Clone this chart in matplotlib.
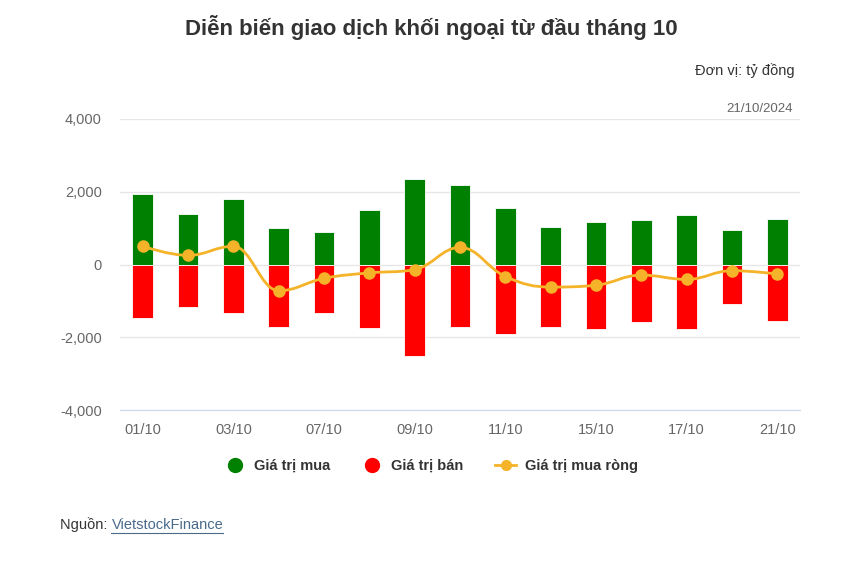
import numpy as np
import matplotlib
matplotlib.use("Agg")
import matplotlib.pyplot as plt
from matplotlib.path import Path
from matplotlib.patches import PathPatch
from matplotlib.lines import Line2D

plt.rcParams['font.family'] = ['Liberation Sans', 'DejaVu Sans']

# Dữ liệu (tỷ đồng)
ngay = ["01/10", "02/10", "03/10", "04/10", "07/10", "08/10", "09/10", "10/10",
        "11/10", "14/10", "15/10", "16/10", "17/10", "18/10", "21/10"]
gia_tri_mua = [1935, 1380, 1810, 1010, 900, 1490, 2350, 2180,
               1560, 1040, 1180, 1220, 1350, 940, 1250]
gia_tri_ban = [-1475, -1160, -1340, -1710, -1340, -1750, -2520, -1710,
               -1920, -1710, -1780, -1570, -1780, -1090, -1540]
mua_rong = [500, 250, 500, -720, -380, -230, -140, 470,
            -330, -620, -570, -290, -410, -170, -260]
y_ticks = [-4000, -2000, 0, 2000, 4000]

GREEN = "#008000"
RED = "#ff0000"
ORANGE = "#f4b328"
TXT = "#333333"
GREY = "#666666"


def spline_path(xs, ys, smoothing=1.5):
    # duong cong kieu "spline" cua Highcharts
    denom = smoothing + 1
    n = len(xs)
    left = [(xs[i], ys[i]) for i in range(n)]
    right = [(xs[i], ys[i]) for i in range(n)]
    for i in range(1, n - 1):
        lx = (smoothing * xs[i] + xs[i - 1]) / denom
        ly = (smoothing * ys[i] + ys[i - 1]) / denom
        rx = (smoothing * xs[i] + xs[i + 1]) / denom
        ry = (smoothing * ys[i] + ys[i + 1]) / denom
        if rx != lx:
            corr = (ry - ly) * (rx - xs[i]) / (rx - lx) + ys[i] - ry
            ly += corr
            ry += corr
        if ly > max(ys[i - 1], ys[i]):
            ly = max(ys[i - 1], ys[i]); ry = 2 * ys[i] - ly
        elif ly < min(ys[i - 1], ys[i]):
            ly = min(ys[i - 1], ys[i]); ry = 2 * ys[i] - ly
        if ry > max(ys[i + 1], ys[i]):
            ry = max(ys[i + 1], ys[i]); ly = 2 * ys[i] - ry
        elif ry < min(ys[i + 1], ys[i]):
            ry = min(ys[i + 1], ys[i]); ly = 2 * ys[i] - ry
        left[i] = (lx, ly)
        right[i] = (rx, ry)
    verts = [(xs[0], ys[0])]
    codes = [Path.MOVETO]
    for i in range(1, n):
        verts += [right[i - 1], left[i], (xs[i], ys[i])]
        codes += [Path.CURVE4] * 3
    return Path(verts, codes)


fig = plt.figure(figsize=(8.62, 5.61), dpi=100)
ax = fig.add_axes([120 / 862, 1 - 410 / 561, 680 / 862, 291 / 561])

x = np.arange(len(ngay))
ax.bar(x, gia_tri_mua, width=0.46, color=GREEN, edgecolor="white", linewidth=0.6, zorder=2)
ax.bar(x, gia_tri_ban, width=0.46, color=RED, edgecolor="white", linewidth=0.6, zorder=2)

ax.add_patch(PathPatch(spline_path(x, mua_rong), facecolor="none",
                       edgecolor=ORANGE, linewidth=2, zorder=3))
ax.plot(x, mua_rong, "o", color=ORANGE, markersize=8, zorder=4)

ax.set_xlim(-0.5, len(ngay) - 0.5)
ax.set_ylim(-4000, 4000)
ax.set_yticks(y_ticks)
ax.set_yticklabels([f"{v:,}" for v in y_ticks])
ax.set_xticks(x[::2])
ax.set_xticklabels(ngay[::2])
ax.tick_params(axis="both", length=0, labelsize=10.5, labelcolor=GREY)
ax.tick_params(axis="y", pad=13)
ax.tick_params(axis="x", pad=9)
ax.grid(axis="y", color="#e6e6e6", linewidth=1, zorder=0)
for s in ["top", "right", "left"]:
    ax.spines[s].set_visible(False)
ax.spines["bottom"].set_color("#ccd6eb")

fig.text(0.5, 1 - 28 / 561, "Diễn biến giao dịch khối ngoại từ đầu tháng 10",
         ha="center", va="center", fontsize=16, fontweight="bold", color=TXT)
fig.text(795 / 862, 1 - 71 / 561, "Đơn vị: tỷ đồng", ha="right", va="center",
         fontsize=10.5, color=TXT)
fig.text(793 / 862, 1 - 109 / 561, "21/10/2024", ha="right", va="center",
         fontsize=9.5, color=GREY)

# chu thich
handles = [
    Line2D([], [], marker="o", linestyle="none", color=GREEN, markersize=10),
    Line2D([], [], marker="o", linestyle="none", color=RED, markersize=10),
    Line2D([], [], marker="o", color=ORANGE, markersize=7, linewidth=2),
]
fig.legend(handles, ["Giá trị mua", "Giá trị bán", "Giá trị mua ròng"],
           loc="center", bbox_to_anchor=(0.5, 1 - 466 / 561), ncol=3, frameon=False,
           prop={"weight": "bold", "size": 10.5}, labelcolor=TXT,
           handlelength=1.4, handletextpad=0.6, columnspacing=2.2)

t1 = fig.text(60 / 862, 1 - 525 / 561, "Nguồn: ", ha="left", va="center",
              fontsize=10.5, color=TXT)
fig.canvas.draw()
bb = t1.get_window_extent()
t2 = fig.text(bb.x1 / 862, 1 - 525 / 561, "VietstockFinance", ha="left", va="center",
              fontsize=10.5, color="#4a6a8a")
fig.canvas.draw()
bb2 = t2.get_window_extent()
fig.add_artist(Line2D([bb2.x0 / 862, bb2.x1 / 862], [(bb2.y0 - 1) / 561] * 2,
                      color="#4a6a8a", linewidth=0.8))

fig.savefig("out.png", dpi=100, facecolor="white")
